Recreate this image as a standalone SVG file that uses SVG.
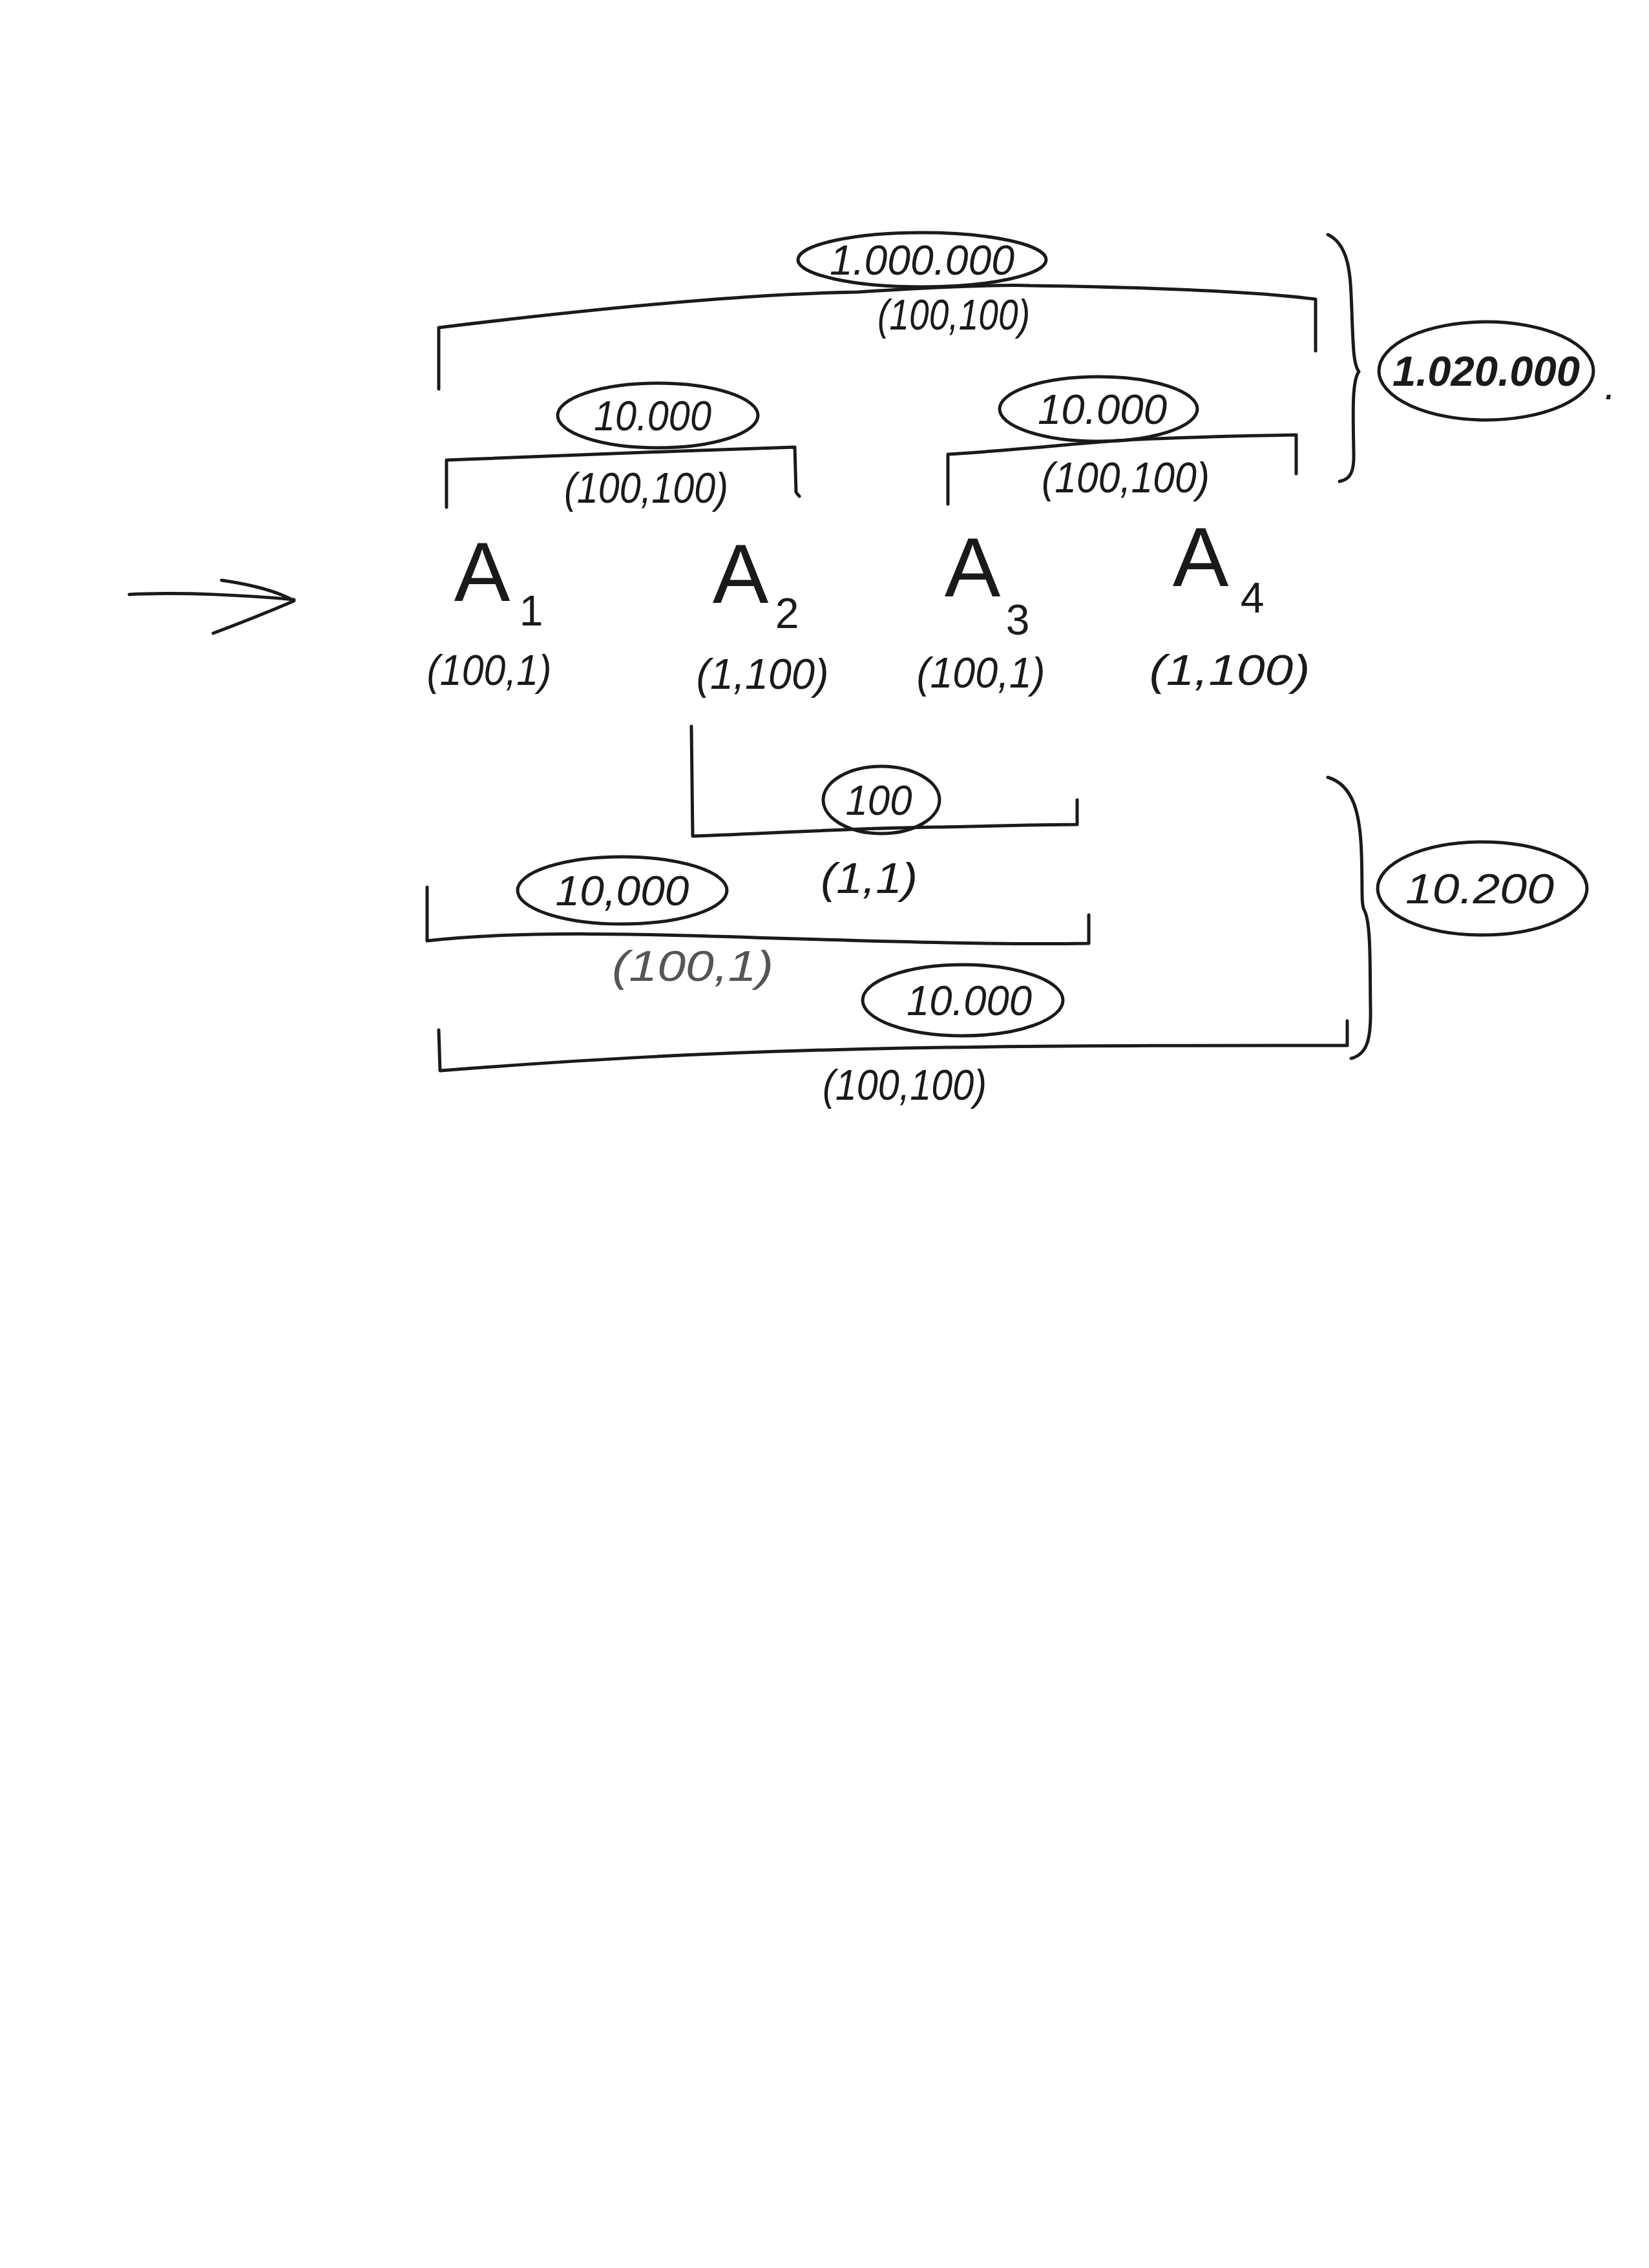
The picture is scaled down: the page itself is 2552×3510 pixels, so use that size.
<svg xmlns="http://www.w3.org/2000/svg" width="2552" height="3510" viewBox="0 0 2552 3510">
<style>
.ln{fill:none;stroke:#1a1a1a;stroke-width:5;stroke-linecap:round;stroke-linejoin:round}
.ov{fill:none;stroke:#1a1a1a;stroke-width:5}
.t{font-family:"Liberation Sans",Arial,sans-serif;fill:#1a1a1a;text-anchor:middle;font-style:italic}
.n{font-size:64px}
.p{font-size:66px}
.a{font-size:130px;font-style:normal}
.s{font-size:66px;font-style:normal}
.g{fill:#555}
</style>
<rect width="2552" height="3510" fill="#ffffff"/>
<g id="connectors">
  <path class="ln" d="M200,920 C280,916 380,921 455,928"/>
  <path class="ln" d="M343,898 C390,905 430,915 455,930 C420,945 370,965 330,980"/>
  <path class="ln" d="M679,602 L679,507 C900,480 1150,455 1327,452 C1450,444 1560,440 1594,442 C1800,445 1950,452 2036,463 L2036,543"/>
  <path class="ln" d="M2055,363 C2090,380 2090,430 2092,480 C2094,540 2095,565 2103,575 C2092,590 2094,640 2095,700 C2096,730 2090,742 2073,745"/>
  <path class="ln" d="M691,785 L691,712 C850,705 1050,698 1230,692 L1232,762 L1237,768"/>
  <path class="ln" d="M1467,780 L1467,703 C1600,695 1700,682 1764,680 C1850,676 1950,674 2006,673 L2006,733"/>
  <path class="ln" d="M1070,1124 L1072,1294 C1200,1290 1300,1282 1450,1280 C1550,1278 1620,1276 1667,1276 L1667,1238"/>
  <path class="ln" d="M661,1373 L661,1456 C800,1440 1000,1445 1200,1452 C1400,1458 1550,1462 1685,1460 L1685,1416"/>
  <path class="ln" d="M679,1594 L681,1657 C900,1640 1100,1628 1400,1622 C1700,1617 1950,1618 2085,1618 L2085,1580"/>
  <path class="ln" d="M2055,1203 C2095,1215 2105,1260 2107,1320 C2109,1380 2106,1400 2112,1410 C2122,1430 2120,1500 2121,1560 C2122,1610 2115,1632 2091,1638"/>
</g>
<g id="n-top">
  <ellipse class="ov" cx="1427" cy="402" rx="192" ry="42"/>
  <text class="t n" x="1427" y="425" textLength="286" lengthAdjust="spacingAndGlyphs">1.000.000</text>
  <text class="t p" x="1476" y="510" textLength="236" lengthAdjust="spacingAndGlyphs">(100,100)</text>
</g>
<g id="n-total-top">
  <ellipse class="ov" cx="2300" cy="574" rx="166" ry="76"/>
  <text class="t n" x="2300" y="597" textLength="290" lengthAdjust="spacingAndGlyphs" font-weight="bold">1.020.000</text>
  <text class="t n" x="2492" y="618">.</text>
</g>
<g id="n-left2">
  <ellipse class="ov" cx="1018" cy="643" rx="155" ry="50"/>
  <text class="t n" x="1010" y="666" textLength="182" lengthAdjust="spacingAndGlyphs">10.000</text>
  <text class="t p" x="1000" y="778" textLength="254" lengthAdjust="spacingAndGlyphs">(100,100)</text>
</g>
<g id="n-right2">
  <ellipse class="ov" cx="1700" cy="633" rx="153" ry="50"/>
  <text class="t n" x="1706" y="656" textLength="200" lengthAdjust="spacingAndGlyphs">10.000</text>
  <text class="t p" x="1742" y="762" textLength="260" lengthAdjust="spacingAndGlyphs">(100,100)</text>
</g>
<g id="n-A1">
  <text class="t a" x="746" y="930">A</text>
  <text class="t s" x="822" y="968">1</text>
  <text class="t p" x="757" y="1060" font-size="86" textLength="193" lengthAdjust="spacingAndGlyphs">(100,1)</text>
</g>
<g id="n-A2">
  <text class="t a" x="1146" y="933">A</text>
  <text class="t s" x="1218" y="972">2</text>
  <text class="t p" x="1180" y="1066" font-size="86" textLength="205" lengthAdjust="spacingAndGlyphs">(1,100)</text>
</g>
<g id="n-A3">
  <text class="t a" x="1505" y="923">A</text>
  <text class="t s" x="1575" y="982">3</text>
  <text class="t p" x="1518" y="1064" font-size="86" textLength="199" lengthAdjust="spacingAndGlyphs">(100,1)</text>
</g>
<g id="n-A4">
  <text class="t a" x="1858" y="907">A</text>
  <text class="t s" x="1938" y="948">4</text>
  <text class="t p" x="1903" y="1060" font-size="86" textLength="249" lengthAdjust="spacingAndGlyphs">(1,100)</text>
</g>
<g id="n-b1">
  <ellipse class="ov" cx="1364" cy="1238" rx="90" ry="52"/>
  <text class="t n" x="1360" y="1261" textLength="103" lengthAdjust="spacingAndGlyphs">100</text>
  <text class="t p" x="1345" y="1382" font-size="86" textLength="150" lengthAdjust="spacingAndGlyphs">(1,1)</text>
</g>
<g id="n-b2">
  <ellipse class="ov" cx="963" cy="1378" rx="162" ry="52"/>
  <text class="t n" x="963" y="1401" textLength="207" lengthAdjust="spacingAndGlyphs">10,000</text>
  <text class="t p g" x="1072" y="1518" textLength="250" lengthAdjust="spacingAndGlyphs">(100,1)</text>
</g>
<g id="n-b3">
  <ellipse class="ov" cx="1490" cy="1548" rx="155" ry="55"/>
  <text class="t n" x="1500" y="1571" textLength="194" lengthAdjust="spacingAndGlyphs">10.000</text>
  <text class="t p" x="1400" y="1702" font-size="76" textLength="254" lengthAdjust="spacingAndGlyphs">(100,100)</text>
</g>
<g id="n-total-bottom">
  <ellipse class="ov" cx="2294" cy="1375" rx="162" ry="72"/>
  <text class="t n" x="2290" y="1398" textLength="230" lengthAdjust="spacingAndGlyphs">10.200</text>
</g>
</svg>
